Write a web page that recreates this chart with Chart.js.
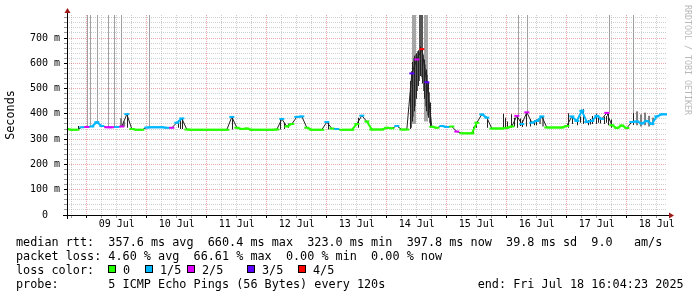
<!DOCTYPE html>
<html>
<head>
<meta charset="utf-8">
<script src="https://cdn.jsdelivr.net/npm/chart.js@4.4.1/dist/chart.umd.min.js"></script>
<style>
  html, body { margin: 0; padding: 0; background: #fff; }
  #wrap { position: relative; width: 697px; height: 297px; overflow: hidden; }
  #graph { position: absolute; left: 0; top: 0; }
  .txt { position: absolute; margin: 0; font: 11.8px 'DejaVu Sans Mono', monospace; line-height: 14px; color: #000; white-space: pre; }
  .box { position: absolute; top: 265px; width: 8px; height: 8px; box-sizing: border-box; border: 1px solid #000; }
</style>
</head>
<body>
<div id="wrap">
  <canvas id="graph" width="697" height="297"></canvas>
  <pre class="txt" id="legend" style="left:16px; top:234.6px;"></pre>
</div>
<script>
// hours are counted from Jul 8 00:00, the graph runs from Jul 8 16:04 to Jul 18 16:04
const startHour = 16.07;
const endHour = 256.07;
const firstHour = 16;
const stepHours = 2;

// median rtt (ms), one value every 2 hours
const medianRtt = [
  340, 337, 337, 347, 348, 350, 367, 352, 347, 347,
  348, 350, 399, 340, 337, 337, 346, 347, 347, 347,
  345, 345, 365, 382, 338, 337, 337, 337, 337, 337,
  337, 337, 337, 388, 345, 340, 342, 337, 337, 337,
  337, 337, 338, 380, 350, 360, 388, 390, 345, 337,
  337, 337, 368, 342, 340, 337, 337, 337, 360, 393,
  370, 338, 338, 338, 345, 343, 352, 338, 338, 560,
  615, 656, 525, 349, 345, 352, 348, 350, 330, 323,
  323, 323, 365, 398, 385, 342, 342, 342, 345, 350,
  392, 360, 406, 365, 372, 390, 346, 346, 346, 346,
  352, 390, 372, 412, 368, 372, 392, 380, 404, 355,
  344, 354, 344, 368, 370, 362, 372, 360, 390, 398,
  398
];
// lost pings out of 5 for each median value
const lossLevel = [
  0, 0, 0, 1, 2, 1, 1, 1, 2, 2,
  1, 2, 1, 0, 0, 0, 1, 1, 1, 1,
  1, 2, 1, 1, 0, 0, 0, 0, 0, 0,
  0, 0, 0, 1, 0, 0, 0, 0, 0, 0,
  0, 0, 0, 1, 0, 0, 1, 1, 0, 0,
  0, 0, 1, 0, 1, 0, 0, 0, 0, 1,
  0, 0, 0, 0, 0, 0, 1, 0, 0, 3,
  2, 4, 3, 0, 0, 1, 1, 0, 2, 0,
  0, 0, 0, 1, 1, 0, 0, 0, 0, 0,
  2, 1, 2, 1, 1, 1, 0, 0, 0, 0,
  0, 1, 1, 1, 1, 1, 1, 1, 2, 0,
  0, 0, 0, 1, 1, 1, 1, 1, 1, 1,
  1
];

// dense smoke (ms range of the pings)
const darkSmokeHours = [
  20.67, 40.27, 60.67, 61.47, 62.27, 82.27, 101.47, 103.07, 104.67, 120.67, 132.67,
  153.47, 154.27, 155.07, 155.87, 156.67, 157.47, 158.27, 159.07, 159.87, 160.67, 161.47,
  178.67, 179.87, 184.27, 190.67, 191.47, 192.27, 193.87, 195.07, 196.27, 197.47, 198.27,
  199.87, 201.47, 203.07, 203.87,
  216.67, 218.27, 220.27, 221.47, 222.67, 224.67, 225.47, 226.27, 227.87, 228.67, 229.47,
  231.07, 231.87, 232.67, 233.87, 242.67];
const darkSmokeLow = [
  338, 345, 345, 340, 340, 338, 338, 340, 345, 338, 345,
  340, 370, 410, 460, 510, 550, 520, 460, 410, 385, 345,
  322, 345, 345, 342, 342, 345, 345, 350, 345, 352, 348,
  350, 350, 355, 355,
  345, 360, 355, 365, 360, 355, 358, 360, 360, 365, 362,
  360, 365, 355, 345, 356];
const darkSmokeHigh = [
  352, 399, 375, 378, 382, 389, 382, 365, 362, 369, 385,
  530, 605, 630, 640, 652, 665, 652, 615, 575, 525, 445,
  349, 365, 378, 400, 385, 370, 398, 385, 392, 382, 375,
  400, 380, 375, 378,
  402, 385, 378, 390, 418, 375, 380, 392, 400, 395, 385,
  390, 392, 402, 378, 403];

// medium smoke between the dense strokes of the 14 Jul peak
const midSmokeHours = [153.87, 154.67, 155.47, 156.27, 157.07, 157.87, 158.67, 159.47, 160.27, 161.07];
const midSmokeLow = [345, 390, 430, 490, 530, 545, 490, 430, 395, 365];
const midSmokeHigh = [570, 620, 635, 648, 658, 660, 635, 595, 555, 485];

// light smoke
const graySmokeHours = [37.7, 38.9, 205.3, 206.5, 244.1, 245.7, 247.3, 248.9, 250.5];
const graySmokeLow = [350, 350, 360, 350, 355, 350, 355, 350, 355];
const graySmokeHigh = [383, 370, 385, 390, 410, 398, 405, 392, 385];

// single pings far above the graph
const spikeHours = [24.27, 25.47, 28.27, 32.67, 35.07, 37.87, 49.07, 196.67, 200.27, 233.07, 242.67];
const spikeLow = [350, 350, 365, 348, 348, 352, 348, 392, 406, 404, 403];

// wide smoke bands of the 14 Jul peak
const bandHours = [154.87, 159.67];
const bandLow = [360, 370];
const coreBandHours = [157.67];
const coreBandLow = [640];
const offGraph = 1000;

const dayLabels = ['09 Jul', '10 Jul', '11 Jul', '12 Jul', '13 Jul', '14 Jul', '15 Jul', '16 Jul', '17 Jul', '18 Jul'];
const rttTicks = [0, 100, 200, 300, 400, 500, 600, 700];
const rttLabels = ['0  ', '100 m', '200 m', '300 m', '400 m', '500 m', '600 m', '700 m'];

const lossColors = ['#26ff00', '#00b8ff', '#dd00ff', '#5e00ff', '#ff0000'];
const lossNames = ['0', '1/5', '2/5', '3/5', '4/5'];

const legendLines = [
  'median rtt:  357.6 ms avg  660.4 ms max  323.0 ms min  397.8 ms now  39.8 ms sd  9.0   am/s',
  'packet loss: 4.60 % avg  66.61 % max  0.00 % min  0.00 % now',
  'loss color:',
  'probe:       5 ICMP Echo Pings (56 Bytes) every 120s             end: Fri Jul 18 16:04:23 2025'
];

const mono = "'DejaVu Sans Mono', monospace";
const majorGrid = 'rgba(190, 0, 0, 0.35)';
const minorGrid = 'rgba(150, 150, 150, 0.45)';
const smokeDark = '#222222';

const floating = (hours, low, high) => hours.map((h, i) => ({ x: h, y: [low[i], high[i]] }));
const smoke = (data, color, thickness, order) => ({
  type: 'bar', data, backgroundColor: color, barThickness: thickness,
  grouped: false, inflateAmount: 0, order
});
const lossColorAt = i => lossColors[lossLevel[i]];
const sameLoss = c => lossLevel[c.p0DataIndex] === lossLevel[c.p1DataIndex];

const axisDecor = {
  id: 'axisDecor',
  afterDraw(chart) {
    const ctx = chart.ctx;
    const a = chart.chartArea;
    const y0 = a.bottom + 0.5;
    const x0 = a.left + 0.5;
    ctx.save();
    ctx.strokeStyle = '#000';
    ctx.lineWidth = 1;
    ctx.beginPath();
    ctx.moveTo(a.left - 4, y0);
    ctx.lineTo(a.right + 4, y0);
    ctx.moveTo(x0, a.bottom + 4);
    ctx.lineTo(x0, a.top - 4);
    ctx.stroke();
    ctx.fillStyle = '#a01818';
    ctx.beginPath();
    ctx.moveTo(x0, a.top - 7);
    ctx.lineTo(x0 - 3, a.top - 2);
    ctx.lineTo(x0 + 3, a.top - 2);
    ctx.fill();
    ctx.beginPath();
    ctx.moveTo(a.right + 7, y0);
    ctx.lineTo(a.right + 2, y0 - 3);
    ctx.lineTo(a.right + 2, y0 + 3);
    ctx.fill();
    ctx.translate(687, 5);
    ctx.rotate(Math.PI / 2);
    ctx.font = '8.3px ' + mono;
    ctx.fillStyle = '#b8b8b8';
    ctx.textBaseline = 'middle';
    ctx.fillText('RRDTOOL / TOBI OETIKER', 0, 0);
    ctx.restore();
  }
};

new Chart(document.getElementById('graph'), {
  type: 'line',
  data: {
    datasets: [
      {
        // median: coloured where the loss stays the same, a thin dark stroke where it changes
        type: 'line',
        data: medianRtt.map((v, i) => ({ x: firstHour + stepHours * i, y: v })),
        borderColor: lossColors[0],
        borderWidth: 2,
        tension: 0,
        pointStyle: 'line',
        pointRadius: 2.5,
        pointBorderWidth: 2,
        pointBorderColor: c => lossColorAt(c.dataIndex),
        pointBackgroundColor: c => lossColorAt(c.dataIndex),
        segment: {
          borderColor: c => sameLoss(c) ? lossColorAt(c.p1DataIndex) : smokeDark,
          borderWidth: c => sameLoss(c) ? 2 : 1
        },
        order: 0
      },
      smoke(floating(darkSmokeHours, darkSmokeLow, darkSmokeHigh), smokeDark, 1, 1),
      smoke(floating(midSmokeHours, midSmokeLow, midSmokeHigh), '#5c5c5c', 1, 2),
      smoke(floating(graySmokeHours, graySmokeLow, graySmokeHigh), '#7a7a7a', 2, 3),
      smoke(floating(spikeHours, spikeLow, spikeHours.map(() => offGraph)), '#a0a0a0', 1, 4),
      smoke(floating(coreBandHours, coreBandLow, coreBandHours.map(() => offGraph)), '#555555', 4, 5),
      smoke(floating(bandHours, bandLow, bandHours.map(() => offGraph)), '#a6a6a6', 4, 6)
    ]
  },
  options: {
    responsive: false,
    animation: false,
    layout: { padding: { left: 0, top: 15, right: 30, bottom: 0 } },
    plugins: { legend: { display: false }, tooltip: { enabled: false } },
    scales: {
      x: {
        type: 'linear',
        min: startHour,
        max: endHour,
        offset: false,
        afterFit: s => { s.height = 82; },
        afterBuildTicks: s => {
          s.ticks = [];
          for (let h = 18; h < endHour; h += 6) s.ticks.push({ value: h });
        },
        grid: {
          offset: false,
          color: c => (c.tick && c.tick.value % 24 === 0) ? majorGrid : minorGrid,
          tickColor: c => (c.tick && c.tick.value % 24 === 0) ? '#000' : '#999',
          tickLength: 3
        },
        border: { display: false, dash: [1, 1] },
        ticks: {
          autoSkip: false,
          maxRotation: 0,
          padding: 0,
          color: '#000',
          font: { family: mono, size: 10 },
          callback: v => (v % 24 === 12) ? dayLabels[(v - 36) / 24] : ''
        }
      },
      y: {
        type: 'linear',
        min: 0,
        max: 791,
        afterFit: s => { s.width = 67; },
        afterBuildTicks: s => {
          s.ticks = [];
          for (let v = 0; v <= 780; v += 20) s.ticks.push({ value: v });
        },
        grid: {
          color: c => (c.tick && c.tick.value % 100 === 0) ? majorGrid : minorGrid,
          tickColor: c => (c.tick && c.tick.value % 100 === 0) ? '#000' : '#999',
          tickLength: 3
        },
        border: { display: false, dash: [1, 1] },
        ticks: {
          autoSkip: false,
          padding: 4,
          color: '#000',
          font: { family: mono, size: 10 },
          callback: v => {
            const i = rttTicks.indexOf(v);
            return i >= 0 ? rttLabels[i] : '';
          }
        },
        title: {
          display: true,
          text: 'Seconds',
          color: '#000',
          font: { family: mono, size: 11.8 },
          padding: { top: 3.5, bottom: 0 }
        }
      }
    }
  },
  plugins: [axisDecor]
});

document.getElementById('legend').textContent = legendLines.join('\n');
const boxLeft = [108, 145, 187, 247, 298];
const wrap = document.getElementById('wrap');
lossNames.forEach((name, i) => {
  const box = document.createElement('div');
  box.className = 'box';
  box.style.left = boxLeft[i] + 'px';
  box.style.background = lossColors[i];
  wrap.appendChild(box);
  const lbl = document.createElement('div');
  lbl.className = 'txt';
  lbl.style.left = (boxLeft[i] + 15) + 'px';
  lbl.style.top = '262.6px';
  lbl.textContent = name;
  wrap.appendChild(lbl);
});
</script>
</body>
</html>
